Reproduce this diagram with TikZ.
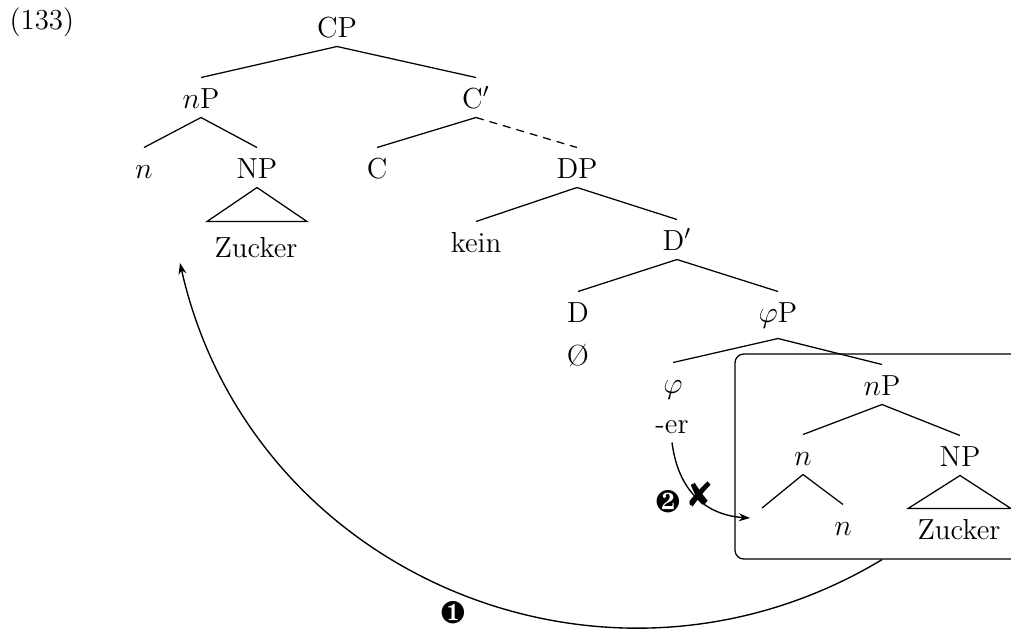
\documentclass[tikz,border=0pt]{standalone}
\usepackage{pifont}
\usetikzlibrary{arrows.meta}
\begin{document}
\begin{tikzpicture}[x=0.4pt,y=-0.4pt,
  every node/.style={font=\fontsize{11.6}{13}\selectfont},
  tn/.style={anchor=base,inner sep=0pt,text height=12pt,text depth=3.6pt},
  lbl/.style={anchor=base,inner sep=0pt},
  dingb/.style={font=\fontsize{12.5}{14}\selectfont,inner sep=0pt},
  edge/.style={line width=0.5pt},
  mv/.style={line width=0.55pt,-{Stealth[length=4.5pt,width=3.2pt]}}]
\useasboundingbox (0,0) rectangle (1011,629);
% box
\node (box) [draw,line width=0.5pt,rounded corners=3.5pt,inner sep=0pt,
  minimum width=117.6pt,minimum height=82pt] at (882,456.5) {};
% label
\node[lbl,anchor=base west] (ex) at (9,29) {(133)};
% tree nodes
\node[tn] (cp) at (337,37) {CP};
\node[tn] (np1) at (201,108) {$n$P};
\node[tn] (cbar) at (476,108) {C$'$};
\node[tn] (n1) at (144,178) {$n$};
\node[tn] (np2) at (257,178) {NP};
\node[tn] (c) at (377,178) {C};
\node[tn] (dp) at (577,178) {DP};
\node[lbl] (zuck1) at (256,257) {Zucker};
\node[tn] (kein) at (476,252) {kein};
\node[tn] (dbar) at (677,250) {D$'$};
\node[tn] (d) at (578,322) {D};
\node[tn,text depth=6.4pt] (phip) at (778,322) {$\varphi$P};
\node[lbl] (nul) at (578,365) {\O};
\node[tn] (phi) at (673,393) {$\varphi$};
\node[tn] (er) at (672,433) {-er};
\node[tn] (np3) at (882,395) {$n$P};
\node[tn] (n3) at (803,465) {$n$};
\node[tn] (np4) at (960,466) {NP};
\node[tn] (n4) at (843,535) {$n$};
\coordinate (leaf) at (762,508);
\node[lbl] (zuck2) at (959,539) {Zucker};
% edges
\draw[edge] (cp.south) -- (np1.north);
\draw[edge] (cp.south) -- (cbar.north);
\draw[edge] (np1.south) -- (n1.north);
\draw[edge] (np1.south) -- (np2.north);
\draw[edge] (cbar.south) -- (c.north);
\draw[edge,dash pattern=on 3.2pt off 2.4pt] (cbar.south) -- (dp.north);
\draw[edge] (np2.south) -- ++(-50,34) -- ++(100,0) -- cycle;
\draw[edge] (dp.south) -- (kein.north);
\draw[edge] (dp.south) -- (dbar.north);
\draw[edge] (dbar.south) -- (d.north);
\draw[edge] (dbar.south) -- (phip.north);
\draw[edge] (phip.south) -- (phi.north);
\draw[edge] (phip.south) -- (np3.north);
\draw[edge] (np3.south) -- (n3.north);
\draw[edge] (np3.south) -- (np4.north);
\draw[edge] (n3.south) -- (leaf);
\draw[edge] (n3.south) -- (n4.north);
\draw[edge] (np4.south) -- ++(-52,33) -- ++(103,0) -- cycle;
% movement arrows
\coordinate (t1) at (180,263);
\coordinate (t2) at (750,518);
\draw[mv] (box.south) .. controls (605,726) and (250,574) .. (t1);
\draw[mv] (er.south) .. controls (678,490) and (705,515) .. (t2);
\node[dingb] (m1) at (453,613) {\ding{182}};
\node[dingb] (m2) at (668,502) {\ding{183}};
\node[dingb,font=\fontsize{14}{16}\selectfont] (mx) at (700,494) {\ding{56}};
\end{tikzpicture}
\end{document}
